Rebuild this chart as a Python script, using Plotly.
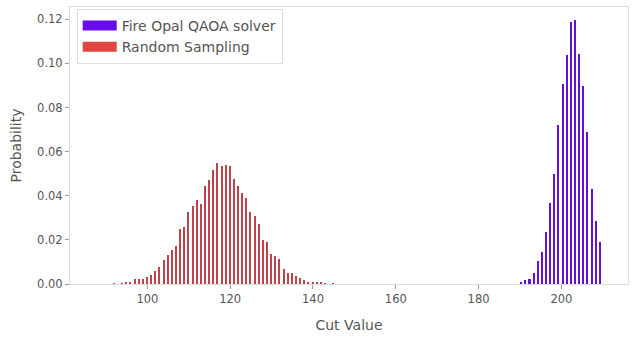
import plotly.graph_objects as go

# Random Sampling distribution
random_cut = list(range(92, 146))
random_prob = [0.0003, 0.0, 0.0004, 0.0008, 0.0009, 0.0023, 0.0023, 0.0024, 0.0033, 0.0041,
               0.0060, 0.0078, 0.0110, 0.0131, 0.0154, 0.0172, 0.0249, 0.0259, 0.0326, 0.0353,
               0.0380, 0.0362, 0.0445, 0.0470, 0.0516, 0.0549, 0.0535, 0.0538, 0.0534, 0.0475,
               0.0444, 0.0413, 0.0388, 0.0327, 0.0308, 0.0271, 0.0199, 0.0192, 0.0136, 0.0126,
               0.0112, 0.0066, 0.0051, 0.0048, 0.0036, 0.0026, 0.0018, 0.0011, 0.0008, 0.0006,
               0.0005, 0.0004, 0.0, 0.0003]

# Fire Opal QAOA solver distribution
qaoa_cut = list(range(190, 210))
qaoa_prob = [0.0010, 0.0017, 0.0024, 0.0048, 0.0106, 0.0146, 0.0237, 0.0368, 0.0498, 0.0723,
             0.0906, 0.1040, 0.1187, 0.1196, 0.1045, 0.0897, 0.0690, 0.0430, 0.0287, 0.0190]

x_ticks = [100, 120, 140, 160, 180, 200]
y_ticks = [0.00, 0.02, 0.04, 0.06, 0.08, 0.10, 0.12]

PURPLE = "#680CE9"
RED = "#E04542"
TXT = "#555555"
FONT = "DejaVu Sans"

fig = go.Figure()
fig.add_trace(go.Bar(x=random_cut, y=random_prob, width=0.36, offset=-0.22,
                     marker=dict(color="#C0424A", line=dict(width=0)), showlegend=False,
                     name="Random Sampling"))
fig.add_trace(go.Bar(x=qaoa_cut, y=qaoa_prob, width=0.5, offset=0.05,
                     marker=dict(color="#6010D8", line=dict(width=0)), showlegend=False,
                     name="Fire Opal QAOA solver"))
# legend patches
fig.add_trace(go.Scatter(x=[None], y=[None], mode="lines", name="Fire Opal QAOA solver",
                         line=dict(color=PURPLE, width=10)))
fig.add_trace(go.Scatter(x=[None], y=[None], mode="lines", name="Random Sampling",
                         line=dict(color=RED, width=10)))

fig.update_layout(
    width=634, height=340,
    margin=dict(l=70, r=6, t=7, b=56),
    paper_bgcolor="white", plot_bgcolor="white",
    font=dict(family=FONT, color=TXT, size=11.5),
    barmode="overlay",
    bargap=0,
    legend=dict(x=0.012, y=0.993, xanchor="left", yanchor="top",
                bgcolor="white", bordercolor="#dddddd", borderwidth=1,
                font=dict(size=14, color=TXT, family=FONT),
                tracegroupgap=0, itemwidth=34),
)
fig.update_xaxes(range=[81.3, 216.1], tickvals=x_ticks, ticks="outside", ticklen=4,
                 tickcolor="#999999", showgrid=False, zeroline=False,
                 showline=True, linecolor="#dddddd", linewidth=1, mirror=True,
                 title=dict(text="Cut Value", font=dict(size=14, color=TXT), standoff=15),
                 tickfont=dict(size=11.5, color=TXT))
fig.update_yaxes(range=[0, 0.1256], tickvals=y_ticks, tickformat=".2f", ticks="outside",
                 ticklen=4, tickcolor="#999999", showgrid=False, zeroline=False,
                 showline=True, linecolor="#dddddd", linewidth=1, mirror=True,
                 title=dict(text="Probability", font=dict(size=14, color=TXT), standoff=12),
                 tickfont=dict(size=11.5, color=TXT))

fig.write_html("out.html")
